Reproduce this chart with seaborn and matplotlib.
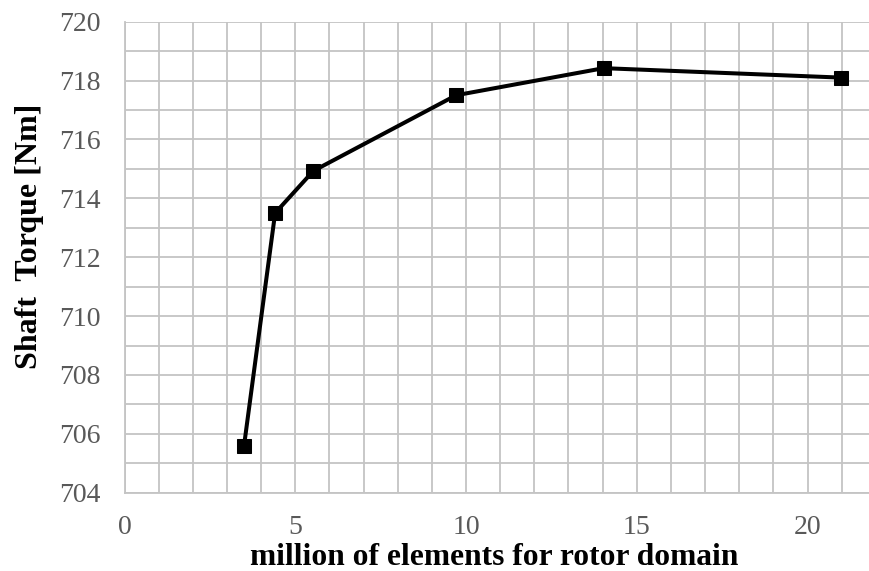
import matplotlib
matplotlib.use("Agg")
import matplotlib.pyplot as plt
from matplotlib.ticker import MultipleLocator
import seaborn as sns
import pandas as pd

# Mesh size (million elements) vs. computed shaft torque
elements_million = [3.50, 4.41, 5.53, 9.71, 14.03, 20.97]
shaft_torque = [705.6, 713.5, 714.93, 717.5, 718.42, 718.1]

x_ticks = [0, 5, 10, 15, 20]
y_ticks = [704, 706, 708, 710, 712, 714, 716, 718, 720]

df = pd.DataFrame({"elements": elements_million, "torque": shaft_torque})

sns.set_style("white")
plt.rcParams["font.family"] = ["Liberation Serif", "DejaVu Serif"]

fig = plt.figure(figsize=(8.69, 5.71), dpi=100)
ax = fig.add_axes([0.1433, 0.1371, 0.8567, 0.825])

grid_color = "#c4c4c4"
ax.xaxis.set_minor_locator(MultipleLocator(1))
ax.yaxis.set_minor_locator(MultipleLocator(1))
ax.set_xticks(x_ticks)
ax.set_yticks(y_ticks)
ax.grid(True, which="both", color=grid_color, linewidth=1.3)
ax.set_axisbelow(True)

sns.lineplot(data=df, x="elements", y="torque", ax=ax, color="black",
             linewidth=2.9, marker="s", markersize=10.5,
             markeredgecolor="black", markerfacecolor="black", clip_on=False)

ax.set_xlim(0, 21.8)
ax.set_ylim(704, 720)

for side in ("top", "right"):
    ax.spines[side].set_visible(False)
for side in ("left", "bottom"):
    ax.spines[side].set_color(grid_color)
    ax.spines[side].set_linewidth(1.3)

ax.tick_params(axis="both", which="both", length=0, labelsize=20,
               labelcolor="#595959")
ax.tick_params(axis="y", pad=17)
ax.tick_params(axis="x", pad=16)

ax.set_xlabel("million of elements for rotor domain", fontsize=22.7,
              fontweight="bold", color="black", va="center")
ax.set_ylabel("Shaft  Torque [Nm]", fontsize=23, fontweight="bold",
              color="black", va="center")
ax.xaxis.set_label_coords(0.496, -0.137)
ax.yaxis.set_label_coords(-0.127, 0.545)

fig.savefig("out.png", dpi=100)
